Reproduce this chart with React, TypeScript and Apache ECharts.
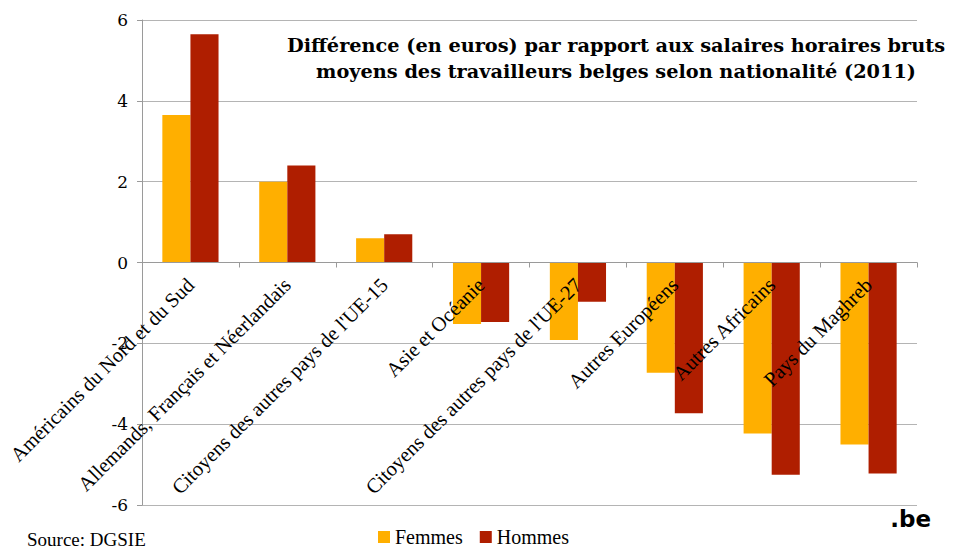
import React, { useEffect, useRef } from "react";
import * as echarts from "echarts";

const categories = [
  "Américains du Nord et du Sud",
  "Allemands, Français et Néerlandais",
  "Citoyens des autres pays de l'UE-15",
  "Asie et Océanie",
  "Citoyens des autres pays de l'UE-27",
  "Autres Européens",
  "Autres Africains",
  "Pays du Maghreb",
];
const femmes = [3.65, 2.0, 0.6, -1.52, -1.92, -2.73, -4.23, -4.5];
const hommes = [5.65, 2.4, 0.7, -1.47, -0.97, -3.73, -5.25, -5.22];
const titleLines = [
  "Différence (en euros) par rapport aux salaires horaires bruts",
  "moyens des travailleurs belges selon nationalité (2011)",
];
const source = "Source: DGSIE";

const serif = "'Liberation Serif', 'Times New Roman', serif";

export default function App() {
  const ref = useRef<HTMLDivElement>(null);
  useEffect(() => {
    if (!ref.current) return;
    const chart = echarts.init(ref.current, null, { renderer: "svg" });
    chart.setOption({
      animation: false,
      backgroundColor: "#ffffff",
      grid: {
        left: 142,
        right: 38,
        top: 20,
        bottom: 44,
        containLabel: false,
        outerBoundsMode: "none",
      },
      legend: {
        left: 373,
        top: 522,
        itemWidth: 12,
        itemHeight: 12,
        itemGap: 17,
        icon: "rect",
        textStyle: { fontFamily: serif, fontSize: 20, color: "#000" },
        data: ["Femmes", "Hommes"],
      },
      xAxis: {
        type: "category",
        data: categories,
        position: "bottom",
        offset: -242.5,
        axisLine: { onZero: false, lineStyle: { color: "#9a9a9a", width: 1 } },
        axisTick: { show: true, length: 5, lineStyle: { color: "#9a9a9a" } },
        axisLabel: {
          rotate: 45,
          interval: 0,
          margin: 19,
          fontFamily: serif,
          fontSize: 20.5,
          color: "#000",
        },
        z: 5,
      },
      yAxis: {
        type: "value",
        min: -6,
        max: 6,
        interval: 2,
        axisLine: { show: true, lineStyle: { color: "#9a9a9a" } },
        axisTick: { show: true, length: 5, lineStyle: { color: "#9a9a9a" } },
        splitLine: { lineStyle: { color: "#b4b4b4", width: 1 } },
        axisLabel: {
          margin: 14,
          fontFamily: "'DejaVu Serif', serif",
          fontSize: 17,
          color: "#000",
        },
      },
      series: [
        {
          name: "Femmes",
          type: "bar",
          data: femmes,
          barGap: "0%",
          barCategoryGap: "42%",
          itemStyle: { color: "#FFAF00" },
        },
        {
          name: "Hommes",
          type: "bar",
          data: hommes,
          barGap: "0%",
          barCategoryGap: "42%",
          itemStyle: { color: "#AF1E00" },
        },
      ],
      graphic: [
        {
          type: "text",
          x: 616,
          y: 32,
          z: 10,
          style: {
            text: titleLines.join("\n"),
            align: "center",
            verticalAlign: "top",
            fontFamily: "'DejaVu Serif', serif",
            fontWeight: "bold",
            fontSize: 19.3,
            lineHeight: 26,
            fill: "#000",
          },
        },
        {
          type: "text",
          x: 27,
          y: 530,
          style: {
            text: source,
            fontFamily: serif,
            fontSize: 19,
            fill: "#000",
            verticalAlign: "top",
          },
        },
        {
          type: "text",
          x: 931,
          y: 507,
          style: {
            text: ".be",
            align: "right",
            verticalAlign: "top",
            fontFamily: "'DejaVu Sans', sans-serif",
            fontWeight: "bold",
            fontSize: 23,
            fill: "#000",
          },
        },
      ],
    });
    return () => chart.dispose();
  }, []);
  return <div ref={ref} style={{ width: 955, height: 549, position: "absolute", left: 0, top: 0 }} />;
}
